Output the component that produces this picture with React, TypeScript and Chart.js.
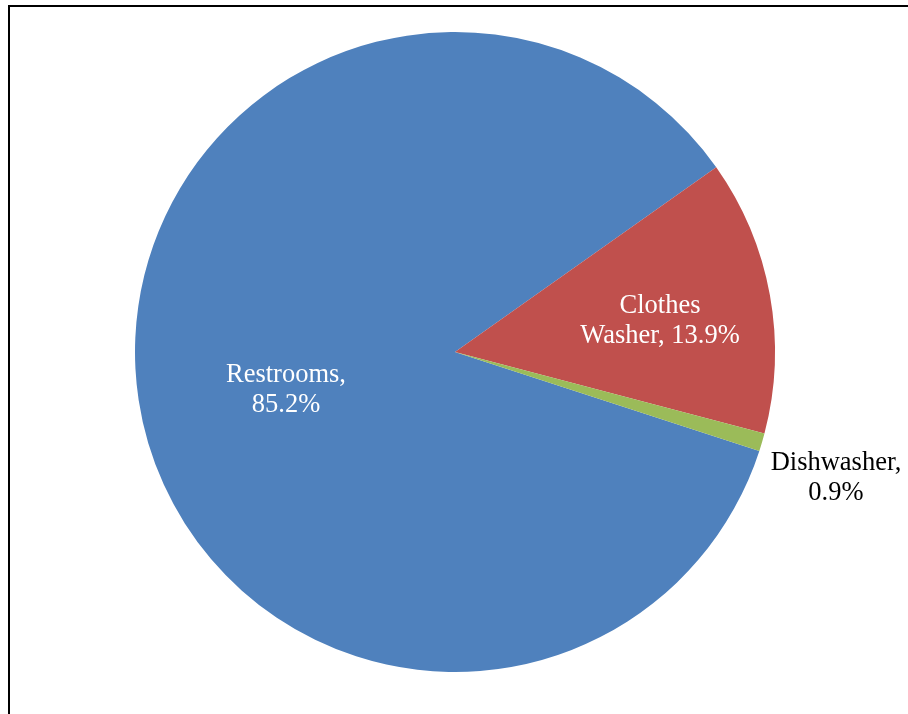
import React, { useEffect, useRef } from "react";
import { Chart, registerables } from "chart.js";

Chart.register(...registerables);

const categories = ["Restrooms", "Clothes Washer", "Dishwasher"];
const values = [85.2, 13.9, 0.9];
const labelLines = [
  ["Restrooms,", "85.2%"],
  ["Clothes", "Washer, 13.9%"],
  ["Dishwasher,", "0.9%"],
];
const colors = ["#4F81BD", "#C0504D", "#9BBB59"];
const labelColors = ["#FFFFFF", "#FFFFFF", "#000000"];
// label placement: radius fraction and angular tweak (degrees)
const labelRadius = [0.54, 0.649, 1.252];
const labelAngleTweak = [-3.4, 1.1, 1.65];

const labelPlugin = {
  id: "sliceLabels",
  afterDatasetsDraw(chart: any) {
    const ctx = chart.ctx;
    const meta = chart.getDatasetMeta(0);
    ctx.save();
    ctx.font = '26.5px "Liberation Serif", "Times New Roman", serif';
    ctx.textAlign = "center";
    ctx.textBaseline = "middle";
    meta.data.forEach((arc: any, i: number) => {
      const p = arc.getProps(["x", "y", "startAngle", "endAngle", "outerRadius"], true);
      const mid = (p.startAngle + p.endAngle) / 2 + (labelAngleTweak[i] * Math.PI) / 180;
      const r = p.outerRadius * labelRadius[i];
      const cx = p.x + Math.cos(mid) * r;
      const cy = p.y + Math.sin(mid) * r + 2;
      const lines = labelLines[i];
      const lh = 30;
      ctx.fillStyle = labelColors[i];
      lines.forEach((ln: string, k: number) => {
        ctx.fillText(ln, cx, cy + (k - (lines.length - 1) / 2) * lh);
      });
    });
    ctx.restore();
  },
};

export default function App() {
  const canvasRef = useRef<HTMLCanvasElement | null>(null);
  useEffect(() => {
    if (!canvasRef.current) return;
    const chart = new Chart(canvasRef.current, {
      type: "pie",
      data: {
        labels: categories,
        datasets: [
          {
            data: values,
            backgroundColor: colors,
            borderWidth: 0,
          },
        ],
      },
      options: {
        animation: false,
        responsive: true,
        maintainAspectRatio: false,
        rotation: -252.0,
        layout: { padding: { left: 135, top: 32, right: 133, bottom: 42 } },
        plugins: {
          legend: { display: false },
          tooltip: { enabled: false },
        },
      },
      plugins: [labelPlugin],
    } as any);
    return () => chart.destroy();
  }, []);

  return (
    <div
      style={{
        position: "fixed",
        left: 0,
        top: 0,
        width: 908,
        height: 714,
        overflow: "hidden",
        background: "#fff",
      }}
    >
      <div
        style={{
          position: "absolute",
          left: 8,
          top: 5,
          width: 1000,
          height: 800,
          border: "2px solid #000",
          boxSizing: "border-box",
        }}
      />
      <div style={{ position: "absolute", left: 0, top: 0, width: 908, height: 714 }}>
        <canvas ref={canvasRef} />
      </div>
    </div>
  );
}
